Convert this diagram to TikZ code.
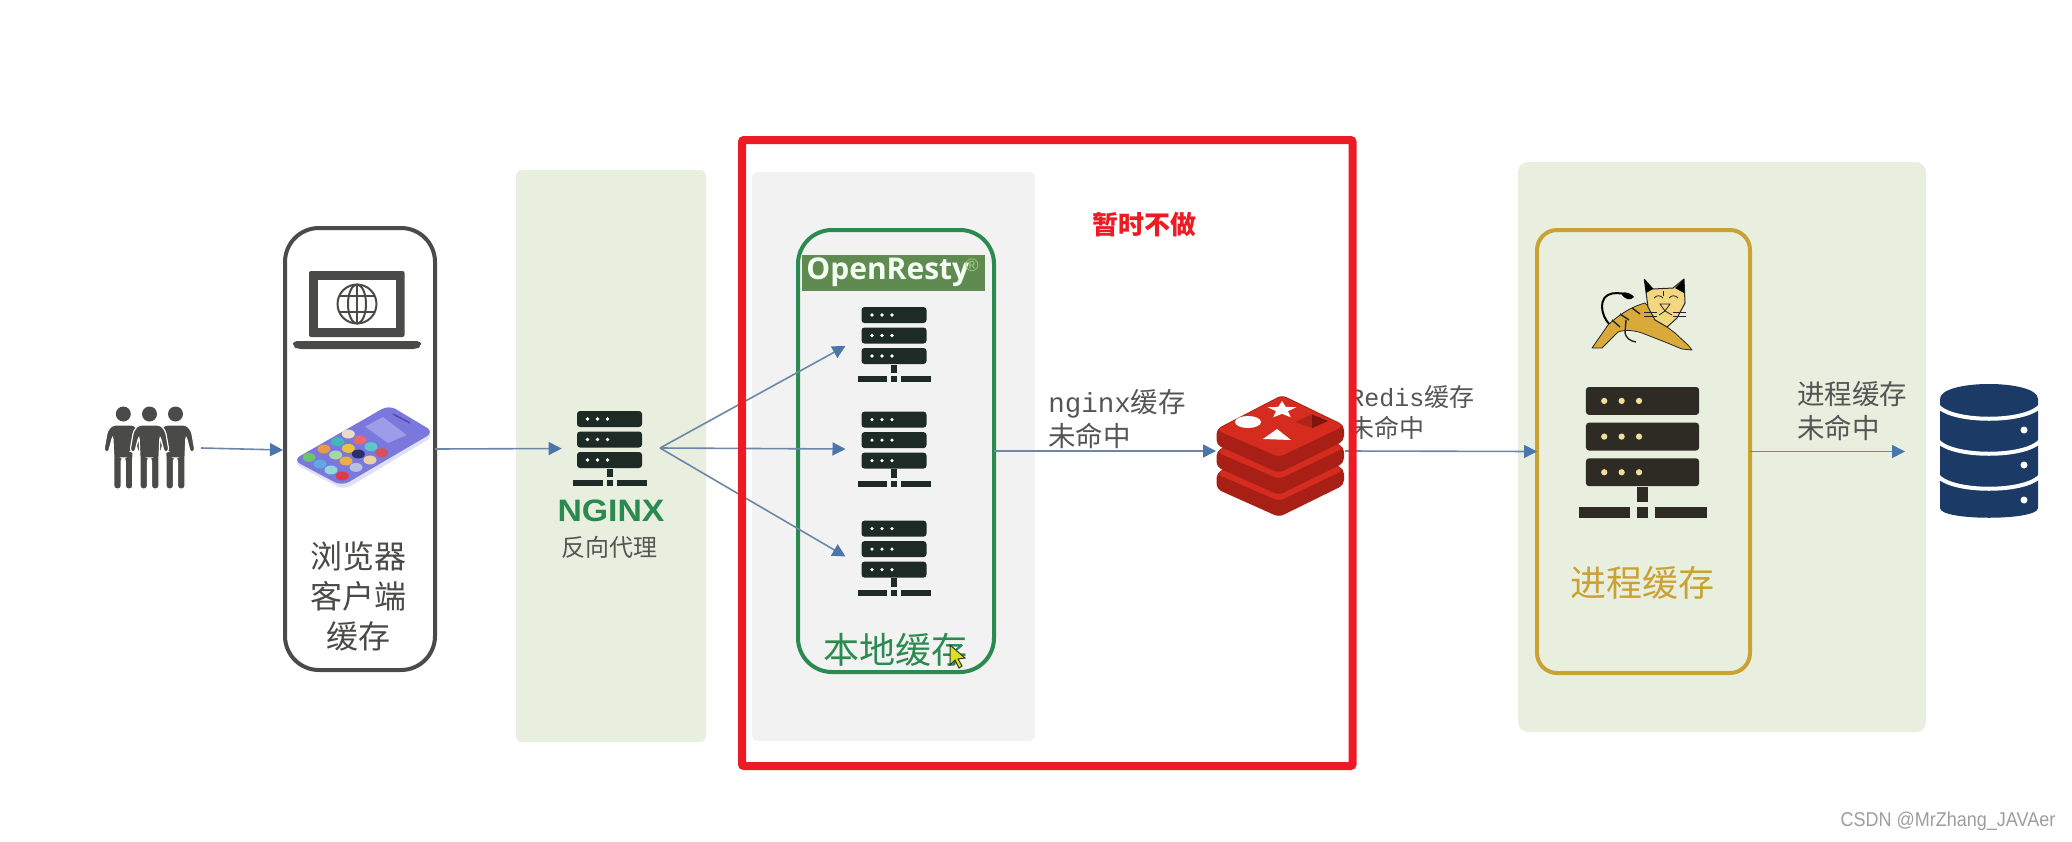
\documentclass[tikz,border=0pt]{standalone}
\usepackage{fontspec}
\usetikzlibrary{arrows.meta}
\setmainfont{Noto Sans CJK SC}
\newfontfamily\monolat{Liberation Mono}
\newfontfamily\sanslat{Liberation Sans}
\newfontfamily\brandlat{Open Sans}
\definecolor{panelgreen}{HTML}{E9EFDF}
\definecolor{panelgrey}{HTML}{F2F2F2}
\definecolor{redframe}{HTML}{ED1C24}
\definecolor{inkgrey}{HTML}{4A4A48}
\definecolor{labelgrey}{HTML}{555555}
\definecolor{okgreen}{HTML}{2A8A50}
\definecolor{gold}{HTML}{C9A233}
\definecolor{arrowline}{HTML}{6D87A8}
\definecolor{arrowtip}{HTML}{4A76AC}
\definecolor{rackdark}{HTML}{1E2A25}
\definecolor{rackgold}{HTML}{2E2A24}
\definecolor{dbblue}{HTML}{1B3A66}
\definecolor{redisface}{HTML}{D62C20}
\definecolor{redisside}{HTML}{A81F15}
\definecolor{catgold}{HTML}{D9A93A}
\definecolor{catface}{HTML}{F3D77F}
\definecolor{phoneedge}{HTML}{E0DFF5}
\definecolor{phonebody}{HTML}{7A78DC}
\definecolor{phonecard}{HTML}{9C9CE8}
\definecolor{phonespeak}{HTML}{4C4AA8}
\definecolor{brandband}{HTML}{5F8A50}
\definecolor{brandmark}{HTML}{A5CC85}
\definecolor{cursorfill}{HTML}{D8E21E}
\definecolor{redismark}{HTML}{B0241A}
\definecolor{redismarkdark}{HTML}{7E150D}
\definecolor{rackdot}{HTML}{F0DE9A}
\tikzset{
  x=0.5pt,y=-0.5pt,
  sized/.style 2 args={minimum width=#1*0.5pt,minimum height=#2*0.5pt,inner sep=0pt,outer sep=0pt},
  flow/.style={draw=arrowline,line width=0.8pt,-{Triangle[length=6.5pt,width=6.5pt,fill=arrowtip,color=arrowtip]}},
  tagtext/.style={text=labelgrey,align=left,anchor=north west,inner sep=0pt,font=\fontsize{13.75pt}{17pt}\selectfont},
  pics/serverrack/.style 2 args={code={
    \foreach \t in {0,20.5,41}{
      \fill[#1,rounded corners=1.5pt] (-32.5,\t) rectangle (32.5,\t+16);
      \foreach \d in {-22,-12,-2}{\fill[#2] (\d,\t+8) circle[radius=1.8];}
    }
    \fill[#1] (-3,57.5) rectangle (3,66);
    \fill[#1] (-36.5,69) rectangle (-7,75);
    \fill[#1] (-3,69) rectangle (3,75);
    \fill[#1] (7,69) rectangle (37,75);
  }},
  pics/personfig/.style={code={
    \fill[inkgrey] (0,0) circle[radius=7.5];
    \path[fill=inkgrey,draw=white,line width=0.6pt,rounded corners=1.5pt]
      (-11,11) -- (11,11) -- (16,17) -- (19.5,37) -- (15,39) -- (10.5,22) -- (9.5,44) -- (9.5,75)
      -- (2,75) -- (2,44) -- (-2,44) -- (-2,75) -- (-9.5,75) -- (-9.5,44) -- (-10.5,22)
      -- (-15,39) -- (-19.5,37) -- (-16,17) -- cycle;
  }}
}
\begin{document}
\begin{tikzpicture}
\useasboundingbox (0,0) rectangle (2072,841);
\fill[white] (0,0) rectangle (2072,841);

% panels
\node[sized={190}{572},fill=panelgreen,rounded corners=3pt] (proxyPanel) at (611,456) {};
\node[sized={283}{569},fill=panelgrey,rounded corners=3pt] (localPanel) at (893.5,456.5) {};
\node[sized={408}{570},fill=panelgreen,rounded corners=5pt] (tomcatPanel) at (1722,447) {};

% boxes
\node[sized={150}{442},draw=inkgrey,line width=2pt,rounded corners=17pt] (browser) at (360,449) {};
\node[sized={196}{442},draw=okgreen,line width=2pt,rounded corners=17pt] (localBox) at (896,451) {};
\node[sized={213}{443},draw=gold,line width=2pt,rounded corners=10pt] (procBox) at (1643.5,451.5) {};

% people
\path (123.3,414) pic {personfig};
\path (175.5,414) pic {personfig};
\path (149.5,414) pic {personfig};

% laptop
\fill[inkgrey,rounded corners=1pt] (309,271) rectangle (404.5,337);
\fill[white] (318,280) rectangle (396,328);
\fill[inkgrey,rounded corners=2pt] (293,341) -- (421,341) -- (421,346) -- (417,349) -- (297,349) -- (293,346) -- cycle;
\begin{scope}[draw=inkgrey,line width=1pt]
  \draw (357,304) circle[radius=19.5];
  \draw (357,304) ellipse[x radius=9,y radius=19.5];
  \draw (357,284.5) -- (357,323.5);
  \draw (340,296) -- (374,296);
  \draw (340,312) -- (374,312);
\end{scope}

% phone
\fill[phoneedge,rounded corners=4pt] (293,463) -- (389,406) -- (434,436) -- (344,490) -- cycle;
\fill[phonebody,rounded corners=4pt] (293,460) -- (389,405) -- (434,432) -- (342,486) -- cycle;
\fill[phonecard] (365,426.7) -- (383,417) -- (406.7,435) -- (388,443) -- cycle;
\draw[phonespeak,line width=0.7pt] (393,414) -- (410,423);
\foreach \a/\b/\c in {
  190/102/E8DCC8,158/125/3FB8B8,117/147/E89A4A,72/172/6CC46C,
  225/120/E86A6A,190/145/EAC040,152/165/A8D8A0,105/192/5FA8E0,
  258/140/5CC8C8,220/162/2A2F6A,183/183/EAB040,138/210/8FD8D8,
  290/158/D8505A,255/180/EAD0A8,213/202/B8C0E0,172/228/E03A4A}{
  \definecolor{appcolor}{HTML}{\c}
  \fill[appcolor] ({285+\a/3},{400+\b/3}) ellipse[x radius=6.5,y radius=4.5];
}

% browser label
\node[inner sep=0pt,text=inkgrey,align=center,font=\fontsize{16pt}{20pt}\selectfont] (browserText) at (358,596) {浏览器\\客户端\\缓存};

% nginx
\path (609.5,411) pic {serverrack={rackdark}{white}};
\node[inner sep=0pt,text=okgreen,font=\sanslat\bfseries\fontsize{15.5pt}{16pt}\selectfont,xscale=1.09] (nginxLogo) at (611,510.5) {NGINX};
\node[inner sep=0pt,text=labelgrey,font=\fontsize{12pt}{14pt}\selectfont] (proxyText) at (609,547) {反向代理};

% openresty
\node[sized={183}{36},fill=brandband] (brandBand) at (893.5,273) {};
\node[inner sep=0pt,anchor=west,text=white!95!green,font=\brandlat\bfseries\fontsize{15pt}{18pt}\selectfont] (brandText) at (806,272) {OpenResty};
\node[inner sep=0pt,text=brandmark,font=\sanslat\fontsize{9pt}{10pt}\selectfont] (brandSign) at (972,265) {®};
\path (894,307) pic {serverrack={rackdark}{white}};
\path (894,411.6) pic {serverrack={rackdark}{white}};
\path (894,520.6) pic {serverrack={rackdark}{white}};
\node[inner sep=0pt,text=okgreen,font=\fontsize{18pt}{20pt}\selectfont] (localText) at (895,650) {本地缓存};
\path[fill=cursorfill,draw=black!80,line width=0.5pt] (950,645) -- (950,665) -- (955,660) -- (959,668) -- (962,666) -- (958,659) -- (965,658) -- cycle;

% redis logo
\foreach \o in {44,22,0}{
  \fill[redisside,rounded corners=2.5pt] (1216.5,429+\o) -- (1216.5,445+\o) -- (1279,473+\o) -- (1344,441+\o) -- (1344,425+\o) -- (1282,395+\o) -- cycle;
  \fill[redisface,rounded corners=2.5pt] (1216.5,430+\o) -- (1282,396+\o) -- (1344,426+\o) -- (1279,457+\o) -- cycle;
}
\fill[white] (1248,422) ellipse[x radius=13,y radius=6];
\fill[white] (1282,401) -- (1278.3,406.9) -- (1267.7,407.2) -- (1276,411.2) -- (1273.2,417.3) -- (1282,413.8) -- (1290.8,417.3) -- (1288,411.2) -- (1296.3,407.2) -- (1285.7,406.9) -- cycle;
\fill[white] (1277,429) -- (1263,439) -- (1291,440) -- cycle;
\fill[redismark] (1295,422) -- (1312,414.5) -- (1328,421) -- (1312,428) -- cycle;
\fill[redismarkdark] (1312,414.5) -- (1328,421) -- (1312,428) -- cycle;

% tomcat
\draw[black,line width=1pt,line cap=round] (1610,325) .. controls (1600,315) and (1598,296) .. (1612,293.5) .. controls (1616,293) and (1620,293) .. (1625,294);
\fill[black] (1621,293) .. controls (1626,291) and (1632,294) .. (1634,297) .. controls (1631,301) and (1624,300) .. (1621,293) -- cycle;
\path[fill=catgold,draw=black!85,line width=0.4pt,line join=round] (1645,303) .. controls (1634,306) and (1622,312) .. (1608,325) -- (1592,348) -- (1602,348) -- (1618,332) .. controls (1626,329) and (1636,331) .. (1642,333) -- (1665,342) -- (1682,349) -- (1692,350) -- (1688,345) -- (1675,333) -- (1667,327) -- cycle;
\begin{scope}[draw=black!85,line width=0.7pt]
  \draw (1632,308) -- (1640,314);
  \draw (1620,314) -- (1629,320);
  \draw (1612,320) -- (1620,327);
  \draw (1626,320) -- (1625,333) .. controls (1626,338) and (1630,341) .. (1636,342);
\end{scope}
\path[fill=catface,draw=black!85,line width=0.5pt,line join=round] (1644.3,279.3) -- (1653,289) -- (1673,288) -- (1684,279) -- (1685,303) -- (1677,318) -- (1667,327) -- (1655,320) -- (1648,307) -- cycle;
\fill[black] (1644.3,279.3) -- (1653,289) -- (1646,293) -- cycle;
\fill[black] (1684,279) -- (1675,288) -- (1684,293) -- cycle;
\begin{scope}[draw=black!85,line width=0.4pt]
  \draw (1654,298) .. controls (1657,295) and (1660,295) .. (1663,298);
  \draw (1669,298) .. controls (1672,295) and (1675,295) .. (1678,298);
  \draw (1663,291) -- (1663,296);
  \draw (1660,304) -- (1670,304) -- (1665,311) -- cycle;
  \draw (1659,315) -- (1665,311) -- (1672,315);
  \draw (1644,312) -- (1657,312);
  \draw (1644,316) -- (1657,316);
  \draw (1673,312) -- (1686,312);
  \draw (1673,316) -- (1686,316);
\end{scope}

% process server
\path (1642.5,387) pic[scale=1.74] {serverrack={rackgold}{rackdot}};
\node[inner sep=0pt,text=gold,font=\fontsize{18pt}{20pt}\selectfont] (procText) at (1642,583) {进程缓存};

% database
\path[fill=dbblue] (1940,399) .. controls (1940,379) and (2038,379) .. (2038,399) -- (2038,508) .. controls (2038,521) and (1940,521) .. (1940,508) -- cycle;
\foreach \e in {403,438,473}{
  \draw[white,line width=2pt] (1936,\e) .. controls (1945,\e+21) and (2033,\e+21) .. (2042,\e);
}
\fill[white] (2024,430) circle[radius=3.5];
\fill[white] (2024,465) circle[radius=3.5];
\fill[white] (2024,500) circle[radius=3.5];

% labels
\node[tagtext] (nginxMiss) at (1048,389) {{\monolat nginx}缓存\\未命中};
\node[tagtext,font=\fontsize{12.5pt}{15.5pt}\selectfont] (redisMiss) at (1349,385) {{\monolat Redis}缓存\\未命中};
\node[tagtext] (procMiss) at (1797,381) {进程缓存\\未命中};
\node[inner sep=0pt,text=redframe,font=\bfseries\fontsize{13pt}{14pt}\selectfont] (pauseText) at (1144,225) {暂时不做};
\node[inner sep=0pt,text=black!38,xscale=0.9,font=\sanslat\fontsize{10pt}{12pt}\selectfont] (mark) at (1948,821) {CSDN @MrZhang\_JAVAer};

% connector anchors
\coordinate (userOut) at (201,448);
\coordinate (browserIn) at (283,450);
\coordinate (nginxIn) at (561.6,448.5);
\coordinate (fan) at (660,448);
\coordinate (srvAIn) at (845.5,346);
\coordinate (srvBIn) at (845.5,449);
\coordinate (srvCIn) at (845.5,556.5);
\coordinate (redisIn) at (1216,451);
\coordinate (redisOut) at (1345,451);
\coordinate (dbIn) at (1905,451.5);

\draw[flow] (userOut) -- (browserIn);
\draw[flow] (browser.east) -- (nginxIn);
\draw[flow] (fan) -- (srvAIn);
\draw[flow] (fan) -- (srvBIn);
\draw[flow] (fan) -- (srvCIn);
\draw[flow] (localBox.east) -- (redisIn);
\draw[flow] (redisOut) -- (procBox.west);
\draw[flow] (procBox.east) -- (dbIn);

% red frame
\node[sized={610.5}{626},draw=redframe,line width=4pt,rounded corners=1pt] (pauseFrame) at (1047.25,453) {};
\end{tikzpicture}
\end{document}
